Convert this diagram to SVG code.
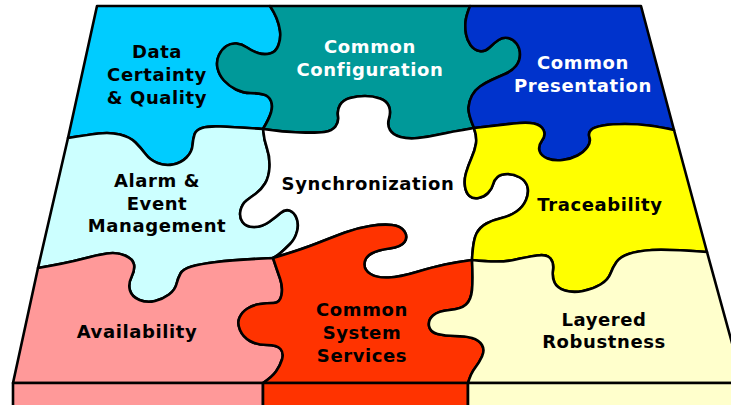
<svg xmlns="http://www.w3.org/2000/svg" width="731" height="405" viewBox="0 0 731 405">
<style>
.p{stroke:#000;stroke-width:2.6;stroke-linejoin:round}
.t{font-family:"DejaVu Sans",Verdana,sans-serif;font-weight:bold;font-size:18px;letter-spacing:0.6px;text-anchor:middle;fill:#000}
.w{fill:#fff}
</style>
<rect width="731" height="405" fill="#fff"/>
<g id="piece-data-certainty">
<path class="p" fill="#00CCFF" d="M97,6 L270,6 Q274,12 276.5,18 Q279,24 280,31 Q281,38 278.5,45 Q276,52 270,53.5 Q264,55 258,53 Q252,51 247,47.5 Q242,44 236.5,43.5 Q231,43 226.5,46 Q222,49 219,55 Q216,61 217.5,68 Q219,75 224,80.5 Q229,86 236,89.5 Q243,93 250.5,93 Q258,93 263.5,94.5 Q269,96 271,101 Q273,106 271,112.5 Q269,119 263,129 Q233,127 220.5,126.5 Q208,126 202,128 Q196,130 194.5,134.5 Q193,139 192.5,145.5 Q192,152 186.5,157.5 Q181,163 173,164.5 Q165,166 157.5,163 Q150,160 145.5,154 Q141,148 135.5,142.5 Q130,137 120,134.5 Q110,132 98.5,133.5 Q87,135 68,138 Z"/>
<text class="t" x="157" y="58">Data</text>
<text class="t" x="157" y="81">Certainty</text>
<text class="t" x="157" y="104">&amp; Quality</text>
</g>
<g id="piece-common-configuration">
<path class="p" fill="#009999" d="M270,6 L470,6 Q466,16 465.5,22 Q465,28 466,34 Q467,40 470.5,45 Q474,50 479.5,51 Q485,52 489.5,47.5 Q494,43 498.5,40 Q503,37 508,38 Q513,39 516.5,43.5 Q520,48 520,54.5 Q520,61 516,66 Q512,71 505,74 Q498,77 491.5,80 Q485,83 480,86.5 Q475,90 472,95.5 Q469,101 468.5,107.5 Q468,114 474,128 Q450,132 439,134.5 Q428,137 418,138 Q408,139 400.5,137 Q393,135 390,130 Q387,125 389,118.5 Q391,112 389,106.5 Q387,101 380,98.5 Q373,96 365,96 Q357,96 350,98 Q343,100 340,105 Q337,110 338,116 Q339,122 335.5,126.5 Q332,131 324.5,132 Q317,133 300,132.5 Q283,132 263,129 Q269,119 271,112.5 Q273,106 271,101 Q269,96 263.5,94.5 Q258,93 250.5,93 Q243,93 236,89.5 Q229,86 224,80.5 Q219,75 217.5,68 Q216,61 219,55 Q222,49 226.5,46 Q231,43 236.5,43.5 Q242,44 247,47.5 Q252,51 258,53 Q264,55 270,53.5 Q276,52 278.5,45 Q281,38 280,31 Q279,24 276.5,18 Q274,12 270,6 Z"/>
<text class="t w" x="370" y="53">Common</text>
<text class="t w" x="370" y="76">Configuration</text>
</g>
<g id="piece-common-presentation">
<path class="p" fill="#0033CC" d="M470,6 L641,6 L674,130 Q660,127 649,125.5 Q638,124 625,124 Q612,124 603,125.5 Q594,127 591,130 Q588,133 589.5,137.5 Q591,142 587.5,147 Q584,152 577.5,155.5 Q571,159 562.5,160 Q554,161 547.5,158.5 Q541,156 539.5,151 Q538,146 542,140.5 Q546,135 543.5,130 Q541,125 534,123.5 Q527,122 513.5,123.5 Q500,125 474,128 Q468,114 468.5,107.5 Q469,101 472,95.5 Q475,90 480,86.5 Q485,83 491.5,80 Q498,77 505,74 Q512,71 516,66 Q520,61 520,54.5 Q520,48 516.5,43.5 Q513,39 508,38 Q503,37 498.5,40 Q494,43 489.5,47.5 Q485,52 479.5,51 Q474,50 470.5,45 Q467,40 466,34 Q465,28 465.5,22 Q466,16 470,6 Z"/>
<text class="t w" x="583" y="69">Common</text>
<text class="t w" x="583" y="92">Presentation</text>
</g>
<g id="piece-alarm-event">
<path class="p" fill="#CCFFFF" d="M68,138 Q87,135 98.5,133.5 Q110,132 120,134.5 Q130,137 135.5,142.5 Q141,148 145.5,154 Q150,160 157.5,163 Q165,166 173,164.5 Q181,163 186.5,157.5 Q192,152 192.5,145.5 Q193,139 194.5,134.5 Q196,130 202,128 Q208,126 220.5,126.5 Q233,127 263,129 Q264,140 267,148.5 Q270,157 269.5,167 Q269,177 265,183.5 Q261,190 256,193.5 Q251,197 246.5,200.5 Q242,204 240.5,210.5 Q239,217 242.5,222 Q246,227 254,227 Q262,227 269,222 Q276,217 280.5,213 Q285,209 289.5,210.5 Q294,212 296.5,218 Q299,224 297,231.5 Q295,239 290,244 Q285,249 281,252.5 Q277,256 273,258 Q233,260 216.5,262 Q200,264 191.5,266.5 Q183,269 180.5,273.5 Q178,278 176.5,284 Q175,290 169,294.5 Q163,299 155,301 Q147,303 139.5,300 Q132,297 130,290.5 Q128,284 131.5,277 Q135,270 134,264.5 Q133,259 125,255.5 Q117,252 107,253.5 Q97,255 82,259 Q67,263 38,268 Z"/>
<text class="t" x="157" y="187">Alarm &amp;</text>
<text class="t" x="157" y="210">Event</text>
<text class="t" x="157" y="232">Management</text>
</g>
<g id="piece-synchronization">
<path class="p" fill="#FFFFFF" d="M263,129 Q283,132 300,132.5 Q317,133 324.5,132 Q332,131 335.5,126.5 Q339,122 338,116 Q337,110 340,105 Q343,100 350,98 Q357,96 365,96 Q373,96 380,98.5 Q387,101 389,106.5 Q391,112 389,118.5 Q387,125 390,130 Q393,135 400.5,137 Q408,139 418,138 Q428,137 439,134.5 Q450,132 474,128 Q477,137 476,143.5 Q475,150 471.5,158 Q468,166 466,173 Q464,180 465,186.5 Q466,193 469.5,196 Q473,199 478.5,198 Q484,197 488,193 Q492,189 493,184.5 Q494,180 497.5,177 Q501,174 507.5,174 Q514,174 520,177.5 Q526,181 527.5,187 Q529,193 526,200 Q523,207 516.5,211.5 Q510,216 501.5,218 Q493,220 486.5,223.5 Q480,227 476.5,233.5 Q473,240 472,260 Q457,262 445,264.5 Q433,267 416.5,272 Q400,277 388.5,277.5 Q377,278 370.5,274 Q364,270 364.5,263.5 Q365,257 371.5,253.5 Q378,250 389.5,248.5 Q401,247 404.5,242 Q408,237 404.5,231.5 Q401,226 392,225 Q383,224 370,226 Q357,228 345,232.5 Q333,237 316.5,243.5 Q300,250 273,258 Q277,256 281,252.5 Q285,249 290,244 Q295,239 297,231.5 Q299,224 296.5,218 Q294,212 289.5,210.5 Q285,209 280.5,213 Q276,217 269,222 Q262,227 254,227 Q246,227 242.5,222 Q239,217 240.5,210.5 Q242,204 246.5,200.5 Q251,197 256,193.5 Q261,190 265,183.5 Q269,177 269.5,167 Q270,157 267,148.5 Q264,140 263,129 Z"/>
<text class="t" x="368" y="190">Synchronization</text>
</g>
<g id="piece-traceability">
<path class="p" fill="#FFFF00" d="M474,128 Q500,125 513.5,123.5 Q527,122 534,123.5 Q541,125 543.5,130 Q546,135 542,140.5 Q538,146 539.5,151 Q541,156 547.5,158.5 Q554,161 562.5,160 Q571,159 577.5,155.5 Q584,152 587.5,147 Q591,142 589.5,137.5 Q588,133 591,130 Q594,127 603,125.5 Q612,124 625,124 Q638,124 649,125.5 Q660,127 674,130 L707,252 Q667,249 652,250 Q637,251 628.5,254 Q620,257 616.5,262 Q613,267 610.5,273.5 Q608,280 600.5,284.5 Q593,289 583,291 Q573,293 565,290.5 Q557,288 554.5,282.5 Q552,277 553,270 Q554,263 550.5,258.5 Q547,254 537,255.5 Q527,257 513.5,260 Q500,263 472,260 Q473,240 476.5,233.5 Q480,227 486.5,223.5 Q493,220 501.5,218 Q510,216 516.5,211.5 Q523,207 526,200 Q529,193 527.5,187 Q526,181 520,177.5 Q514,174 507.5,174 Q501,174 497.5,177 Q494,180 493,184.5 Q492,189 488,193 Q484,197 478.5,198 Q473,199 469.5,196 Q466,193 465,186.5 Q464,180 466,173 Q468,166 471.5,158 Q475,150 476,143.5 Q477,137 474,128 Z"/>
<text class="t" x="600" y="211">Traceability</text>
</g>
<g id="piece-availability">
<path class="p" fill="#FF9999" d="M38,268 Q67,263 82,259 Q97,255 107,253.5 Q117,252 125,255.5 Q133,259 134,264.5 Q135,270 131.5,277 Q128,284 130,290.5 Q132,297 139.5,300 Q147,303 155,301 Q163,299 169,294.5 Q175,290 176.5,284 Q178,278 180.5,273.5 Q183,269 191.5,266.5 Q200,264 216.5,262 Q233,260 273,258 Q277,270 280,278.5 Q283,287 281.5,295 Q280,303 273.5,303 Q267,303 260,304 Q253,305 247.5,308.5 Q242,312 239.5,317.5 Q237,323 240,330 Q243,337 250,341 Q257,345 267,345 Q277,345 280.5,349 Q284,353 282,359.5 Q280,366 276,371.5 Q272,377 263,383 L13,383 Z"/>
<path class="p" fill="#FF9999" d="M13,383 L263,383 L263,412 L13,412 Z"/>
<text class="t" x="137" y="338">Availability</text>
</g>
<g id="piece-common-system-services">
<path class="p" fill="#FF3300" d="M273,258 Q300,250 316.5,243.5 Q333,237 345,232.5 Q357,228 370,226 Q383,224 392,225 Q401,226 404.5,231.5 Q408,237 404.5,242 Q401,247 389.5,248.5 Q378,250 371.5,253.5 Q365,257 364.5,263.5 Q364,270 370.5,274 Q377,278 388.5,277.5 Q400,277 416.5,272 Q433,267 445,264.5 Q457,262 472,260 Q473,280 472,290 Q471,300 466,304.5 Q461,309 449.5,310 Q438,311 433,315.5 Q428,320 429,326 Q430,332 437.5,334 Q445,336 455,336 Q465,336 472,338 Q479,340 482,345 Q485,350 482,356.5 Q479,363 475,368 Q471,373 468,383 L263,383 Q272,377 276,371.5 Q280,366 282,359.5 Q284,353 280.5,349 Q277,345 267,345 Q257,345 250,341 Q243,337 240,330 Q237,323 239.5,317.5 Q242,312 247.5,308.5 Q253,305 260,304 Q267,303 273.5,303 Q280,303 281.5,295 Q283,287 280,278.5 Q277,270 273,258 Z"/>
<path class="p" fill="#FF3300" d="M263,383 L468,383 L468,412 L263,412 Z"/>
<text class="t" x="362" y="316">Common</text>
<text class="t" x="362" y="339">System</text>
<text class="t" x="362" y="362">Services</text>
</g>
<g id="piece-layered-robustness">
<path class="p" fill="#FFFFCC" d="M472,260 Q500,263 513.5,260 Q527,257 537,255.5 Q547,254 550.5,258.5 Q554,263 553,270 Q552,277 554.5,282.5 Q557,288 565,290.5 Q573,293 583,291 Q593,289 600.5,284.5 Q608,280 610.5,273.5 Q613,267 616.5,262 Q620,257 628.5,254 Q637,251 652,250 Q667,249 707,252 L743,383 L468,383 Q471,373 475,368 Q479,363 482,356.5 Q485,350 482,345 Q479,340 472,338 Q465,336 455,336 Q445,336 437.5,334 Q430,332 429,326 Q428,320 433,315.5 Q438,311 449.5,310 Q461,309 466,304.5 Q471,300 472,290 Q473,280 472,260 Z"/>
<path class="p" fill="#FFFFCC" d="M468,383 L760,383 L760,412 L468,412 Z"/>
<text class="t" x="604" y="326">Layered</text>
<text class="t" x="604" y="348">Robustness</text>
</g>
</svg>
